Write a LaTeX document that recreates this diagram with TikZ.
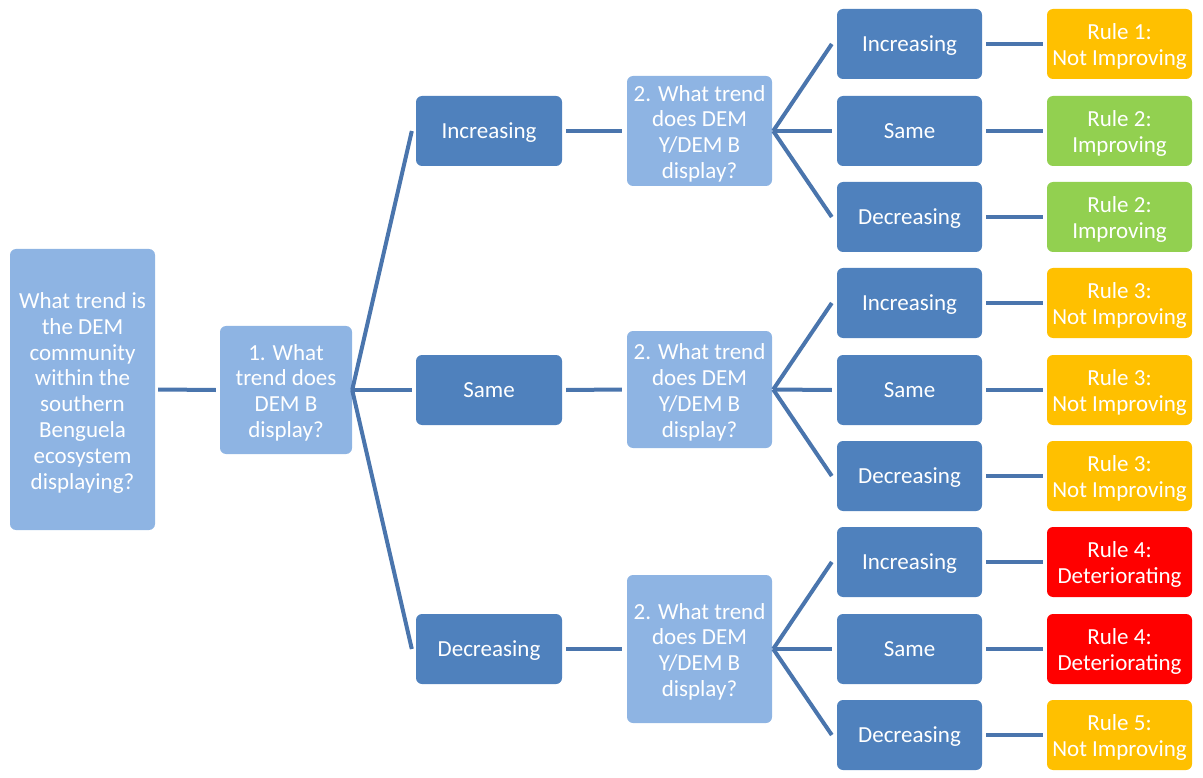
\documentclass[tikz,border=0pt]{standalone}
\usepackage{fontspec}
\setmainfont{Carlito}
\begin{document}
\begin{tikzpicture}[x=1pt,y=-1pt,
  box/.style={rounded corners=6pt, inner sep=0pt, align=center, text=white,
    font=\fontsize{23}{25.8}\selectfont, minimum width=145pt, minimum height=70pt,
    execute at begin node={\rule{0pt}{19.5pt}},
    execute at end node={\rule[-5pt]{0pt}{5pt}}},
  % a multi-line block sits on its last baseline: this strut sets its top
  lines/.style={execute at begin node={\rule{0pt}{#1}}},
  question/.style={box, fill=qblue},
  answer/.style={box, fill=ablue},
  rulebox/.style={box, lines=48pt},
  link/.style={draw=lineblue, line width=4pt}
]
\definecolor{qblue}{HTML}{8EB4E3}
\definecolor{ablue}{HTML}{4F81BD}
\definecolor{lineblue}{HTML}{4A75AD}
\definecolor{rorange}{HTML}{FFC000}
\definecolor{rgreen}{HTML}{92D050}
\definecolor{rred}{HTML}{FF0000}
\useasboundingbox (0,0) rectangle (1203,778);

% root question and first split
\node[question, lines=204pt, minimum width=145pt, minimum height=281pt] (root) at (82.5,389.5)
  {What trend is\\the DEM\\community\\within the\\southern\\Benguela\\ecosystem\\displaying?};
\node[question, lines=100pt, minimum width=132pt, minimum height=128pt] (qa) at (286,390)
  {1. What\\trend does\\DEM B\\display?};

% answers to the first question
\node[answer, minimum width=146pt] (a1) at (489,131) {Increasing};
\node[answer, minimum width=146pt] (a2) at (489,390) {Same};
\node[answer, minimum width=146pt] (a3) at (489,649) {Decreasing};

% second questions
\node[question, lines=100pt, minimum height=110pt] (b1) at (699.5,131) {2. What trend\\does DEM\\Y/DEM B\\display?};
\node[question, lines=100pt, minimum height=117pt] (b2) at (699.5,389.5) {2. What trend\\does DEM\\Y/DEM B\\display?};
\node[question, lines=100pt, minimum height=148pt] (b3) at (699.5,649) {2. What trend\\does DEM\\Y/DEM B\\display?};

% answers to the second questions
\foreach \i/\y/\t in {1/44/Increasing, 2/131/Same, 3/217/Decreasing,
                      4/303/Increasing, 5/390/Same, 6/476/Decreasing,
                      7/562/Increasing, 8/649/Same, 9/735/Decreasing}
  \node[answer] (c\i) at (909.5,\y) {\t};

% outcomes
\node[rulebox, fill=rorange] (r1) at (1119.5,44)  {Rule 1:\\Not Improving};
\node[rulebox, fill=rgreen]  (r2) at (1119.5,131) {Rule 2:\\Improving};
\node[rulebox, fill=rgreen]  (r3) at (1119.5,217) {Rule 2:\\Improving};
\node[rulebox, fill=rorange] (r4) at (1119.5,303) {Rule 3:\\Not Improving};
\node[rulebox, fill=rorange] (r5) at (1119.5,390) {Rule 3:\\Not Improving};
\node[rulebox, fill=rorange] (r6) at (1119.5,476) {Rule 3:\\Not Improving};
\node[rulebox, fill=rred]    (r7) at (1119.5,562) {Rule 4:\\Deteriorating};
\node[rulebox, fill=rred]    (r8) at (1119.5,649) {Rule 4:\\Deteriorating};
\node[rulebox, fill=rorange] (r9) at (1119.5,735) {Rule 5:\\Not Improving};

% connectors
\draw[link] ([xshift=3pt]root.east) -- ([xshift=-4pt]qa.west);
\foreach \k in {1,2,3}
  \draw[link] (qa.east) -- ([xshift=-4pt]a\k.west);
\foreach \k in {1,2,3}
  \draw[link] ([xshift=4pt]a\k.east) -- ([xshift=-5pt]b\k.west);
\foreach \k/\m in {1/1,1/2,1/3,2/4,2/5,2/6,3/7,3/8,3/9}
  \draw[link] ([xshift=1pt]b\k.east) -- ([xshift=-5pt]c\m.west);
\foreach \m in {1,...,9}
  \draw[link] ([xshift=4pt]c\m.east) -- ([xshift=-4pt]r\m.west);
\end{tikzpicture}
\end{document}
